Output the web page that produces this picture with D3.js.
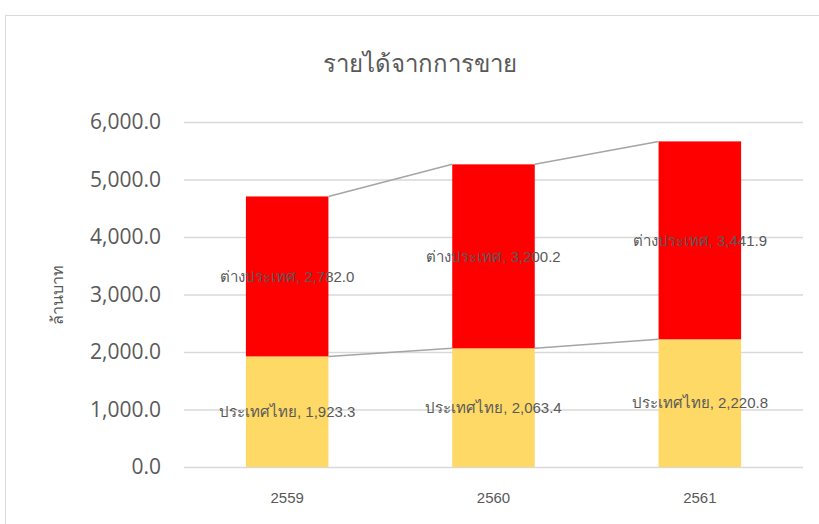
<!DOCTYPE html>
<html>
<head>
<meta charset="utf-8">
<script src="https://cdn.jsdelivr.net/npm/d3@7"></script>
<style>
  body { margin: 0; background: #fff; }
  svg { display: block; }
  text { font-family: "Liberation Sans", Arial, sans-serif; }
</style>
</head>
<body>
<svg id="chart" width="819" height="524"></svg>
<script>
/* ------------------------------- data -------------------------------- */
const years      = ['2559', '2560', '2561'];
const seriesName = ['ประเทศไทย', 'ต่างประเทศ'];
const thaiVals   = [1923.3, 2063.4, 2220.8];
const abroadVals = [2782.0, 3200.2, 3441.9];
const yTicks     = [0, 1000, 2000, 3000, 4000, 5000, 6000];
const colors     = ['#FFD966', '#FF0000'];

/* ------------------------------- setup ------------------------------- */
const svg = d3.select('#chart');
const PLOT = {left: 184, right: 803, top: 122, bottom: 467};

// chart-area border (runs off the right/bottom edge like the original)
svg.append('rect')
  .attr('x', 5.5).attr('y', 15.5)
  .attr('width', 830).attr('height', 530)
  .attr('fill', 'none').attr('stroke', '#d9d9d9');

const xScale = d3.scaleBand().domain(years).range([PLOT.left, PLOT.right]).paddingInner(0.6).paddingOuter(0.3);
const yScale = d3.scaleLinear().domain([0, 6000]).range([PLOT.bottom, PLOT.top]);

const rows = years.map((y, i) => ({year: y, thai: thaiVals[i], abroad: abroadVals[i]}));
const stacked = d3.stack().keys(['thai', 'abroad'])(rows);

// gridlines + y labels
const yAxisG = svg.append('g').attr('transform', `translate(${PLOT.left},0)`)
  .call(d3.axisLeft(yScale).tickValues(yTicks).tickSize(-(PLOT.right - PLOT.left))
    .tickPadding(23).tickFormat(d3.format(',.1f')));
yAxisG.select('.domain').remove();
yAxisG.selectAll('line').attr('stroke', '#d9d9d9').attr('stroke-width', 1.5);
yAxisG.selectAll('text').attr('fill', '#595959')
  .style('font-family', '"Open Sans", sans-serif').style('font-size', '21px');

// x labels
const xAxisG = svg.append('g').attr('transform', `translate(0,${PLOT.bottom})`)
  .call(d3.axisBottom(xScale).tickSize(0).tickPadding(25));
xAxisG.select('.domain').remove();
xAxisG.selectAll('text').attr('fill', '#595959').style('font-size', '15px');

// bars
svg.append('g').selectAll('g').data(stacked).join('g')
  .attr('fill', (d, i) => colors[i])
  .selectAll('rect').data(d => d).join('rect')
  .attr('x', d => xScale(d.data.year))
  .attr('width', xScale.bandwidth())
  .attr('y', d => yScale(d[1]))
  .attr('height', d => yScale(d[0]) - yScale(d[1]));

// series lines (bar top right edge -> next bar top left edge)
stacked.forEach(s => {
  for (let i = 0; i < s.length - 1; i++) {
    svg.append('line')
      .attr('x1', xScale(years[i]) + xScale.bandwidth())
      .attr('y1', yScale(s[i][1]))
      .attr('x2', xScale(years[i + 1]))
      .attr('y2', yScale(s[i + 1][1]))
      .attr('stroke', '#a5a5a5').attr('stroke-width', 1.5);
  }
});

// data labels
const fmt = d3.format(',.1f');
stacked.forEach((s, k) => {
  svg.append('g').selectAll('text').data(s).join('text')
    .attr('x', d => xScale(d.data.year) + xScale.bandwidth() / 2)
    .attr('y', d => yScale((d[0] + d[1]) / 2))
    .attr('dy', '0.35em')
    .attr('text-anchor', 'middle')
    .attr('fill', '#595959')
    .style('font-size', '15px')
    .text(d => `${seriesName[k]}, ${fmt(d[1] - d[0])}`);
});

// title
svg.append('text')
  .attr('x', 420).attr('y', 72)
  .attr('text-anchor', 'middle')
  .attr('fill', '#595959')
  .style('font-size', '24px')
  .text('รายได้จากการขาย');

// y axis title
svg.append('text')
  .attr('transform', `translate(63,${(PLOT.top + PLOT.bottom) / 2}) rotate(-90)`)
  .attr('text-anchor', 'middle')
  .attr('fill', '#595959')
  .style('font-size', '16px')
  .text('ล้านบาท');
</script>
</body>
</html>
